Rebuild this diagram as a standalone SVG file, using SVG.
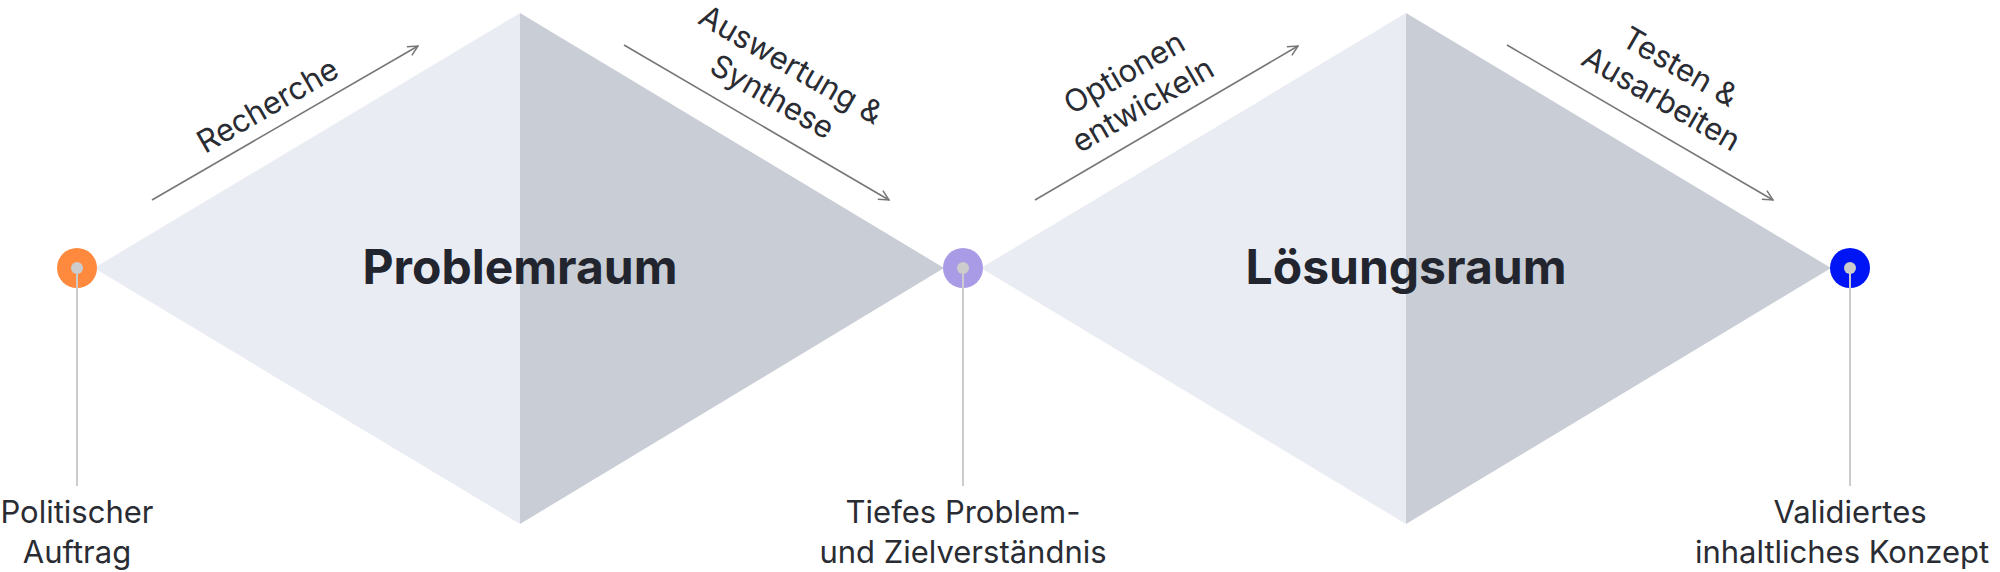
<svg xmlns="http://www.w3.org/2000/svg" width="2000" height="572" viewBox="0 0 2000 572">
<defs>
<marker id="ah" viewBox="0 0 12 12" refX="11" refY="6" markerWidth="12" markerHeight="12" markerUnits="userSpaceOnUse" orient="auto">
<path d="M1,1 L11,6 L1,11" fill="none" stroke="#777" stroke-width="1.5"/>
</marker>
<style>
.l{fill:#EAECF3}.r{fill:#C9CDD5}
.t{font-family:Inter,"Noto Sans",sans-serif;font-size:48px;font-weight:700;fill:#22252E;text-anchor:middle}
.s{font-family:Inter,"Noto Sans",sans-serif;font-size:31px;fill:#2A2C33;text-anchor:middle}
.a{stroke:#777;stroke-width:1.6;fill:none;marker-end:url(#ah)}
.v{stroke:#CCCCCC;stroke-width:2}
</style>
</defs>
<g id="problemraum">
<polygon class="l" points="94,268 520,13 520,524"/>
<polygon class="r" points="520,13 944,268 520,524"/>
<text class="t" x="520" y="284">Problemraum</text>
</g>
<g id="loesungsraum">
<polygon class="l" points="981,268 1406,13 1406,524"/>
<polygon class="r" points="1406,13 1831,268 1406,524"/>
<text class="t" x="1406" y="284">Lösungsraum</text>
</g>
<g id="start">
<circle cx="77" cy="268" r="20" fill="#FF8A3D"/>
<circle cx="77" cy="268" r="6" fill="#CCCCCC"/>
<line class="v" x1="77" y1="268" x2="77" y2="486"/>
<text class="s" x="77" y="523">Politischer</text>
<text class="s" x="77" y="563">Auftrag</text>
</g>
<g id="mitte">
<circle cx="963" cy="268" r="20" fill="#A99BE6"/>
<circle cx="963" cy="268" r="6" fill="#CCCCCC"/>
<line class="v" x1="963" y1="268" x2="963" y2="486"/>
<text class="s" x="963" y="523">Tiefes Problem-</text>
<text class="s" x="963" y="563">und Zielverständnis</text>
</g>
<g id="ende">
<circle cx="1850" cy="268" r="20" fill="#0015F5"/>
<circle cx="1850" cy="268" r="6" fill="#CCCCCC"/>
<line class="v" x1="1850" y1="268" x2="1850" y2="486"/>
<text class="s" x="1850" y="523">Validiertes</text>
<text class="s" x="1842" y="563">inhaltliches Konzept</text>
</g>
<g id="connectors">
<line class="a" x1="152" y1="200" x2="418" y2="46"/>
<line class="a" x1="624" y1="45" x2="889" y2="200"/>
<line class="a" x1="1035" y1="200" x2="1298" y2="46"/>
<line class="a" x1="1507" y1="45" x2="1773" y2="200"/>
</g>
<g id="labels">
<text class="s" transform="translate(268,106) rotate(-30)" y="10">Recherche</text>
<g transform="translate(782,80) rotate(30)">
<text class="s" y="-7">Auswertung &amp;</text>
<text class="s" y="30">Synthese</text>
</g>
<g transform="translate(1133,88) rotate(-30)">
<text class="s" y="-7">Optionen</text>
<text class="s" y="30">entwickeln</text>
</g>
<g transform="translate(1671,82) rotate(30)">
<text class="s" y="-7">Testen &amp;</text>
<text class="s" y="30">Ausarbeiten</text>
</g>
</g>
</svg>
